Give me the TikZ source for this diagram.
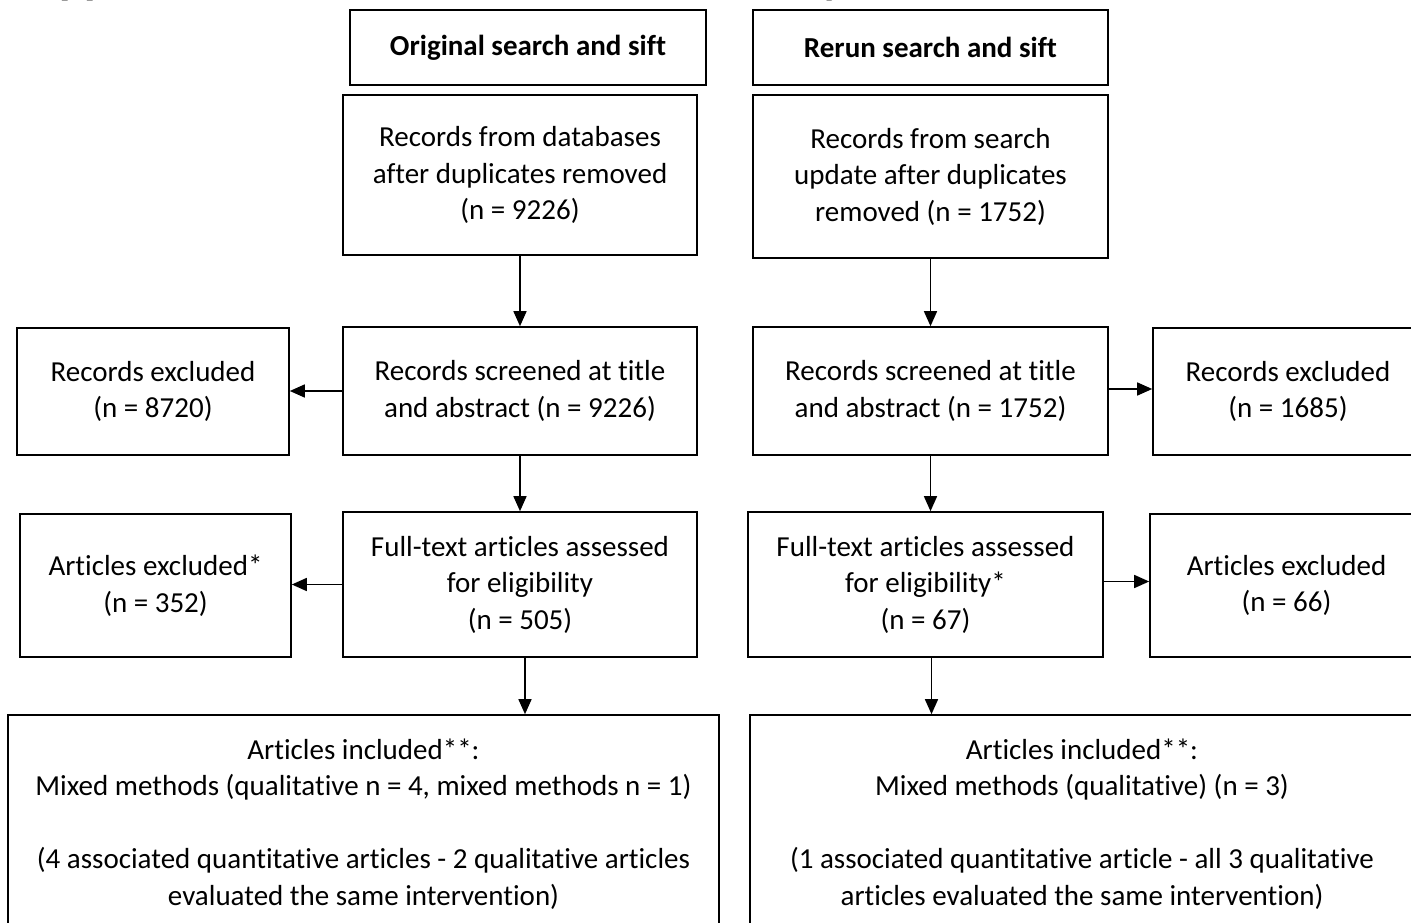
\documentclass[tikz,border=0pt]{standalone}
\usepackage{fontspec}
\setmainfont{Carlito}[Ligatures=NoCommon]
\usetikzlibrary{arrows.meta}
\begin{document}
\begin{tikzpicture}[x=1pt,y=-1pt,
  box/.style={draw=black, line width=1.6pt, inner sep=0pt, align=center,
    font=\fontsize{29}{36.5}\selectfont},
  head/.style={box, font=\bfseries\fontsize{29}{36.5}\selectfont},
  flow/.style={draw=black, line width=1.5pt, -{Triangle[length=15pt,width=13pt]}},
  title/.style={anchor=base west, inner sep=0pt, font=\bfseries\fontsize{47}{56}\selectfont}]
\useasboundingbox (0,0) rectangle (1411,923);
\clip (0,0) rectangle (1411,923);

% heading line, mostly above the top edge
\node[title] (titleA) at (31,-6) {Appendix};
\node[title] (titleB) at (332,-6) {,};
\node[title] (titleC) at (822,-6) {y};

% column headings
\node[head, minimum width=356pt, minimum height=75pt] (orig) at (528,47.5) {Original search and sift};
\node[head, minimum width=355pt, minimum height=75pt] (rerun) at (930.5,47.5) {Rerun search and sift};

% identification
\node[box, minimum width=354pt, minimum height=160pt] (rec1) at (520,175)
  {Records from databases\\after duplicates removed\\(n = 9226)};
\node[box, minimum width=355pt, minimum height=163pt] (rec2) at (930.5,176.5)
  {Records from search\\update after duplicates\\removed (n = 1752)};

% screening
\node[box, minimum width=354pt, minimum height=128pt] (scr1) at (520,391)
  {Records screened at title\\and abstract (n = 9226)};
\node[box, minimum width=272pt, minimum height=127pt] (exc1) at (153,391.5)
  {Records excluded\\(n = 8720)};
\node[box, minimum width=355pt, minimum height=128pt] (scr2) at (930.5,391)
  {Records screened at title\\and abstract (n = 1752)};
\node[box, minimum width=270pt, minimum height=127pt] (exc2) at (1288,391.5)
  {Records excluded\\(n = 1685)};

% eligibility
\node[box, minimum width=354pt, minimum height=145pt] (ft1) at (520,584.5)
  {Full-text articles assessed\\for eligibility\\(n = 505)};
\node[box, minimum width=271pt, minimum height=143pt] (aex1) at (155.5,585.5)
  {Articles excluded*\\(n = 352)};
\node[box, minimum width=355pt, minimum height=145pt] (ft2) at (925.5,584.5)
  {Full-text articles assessed\\for eligibility*\\(n = 67)};
\node[box, minimum width=273pt, minimum height=143pt] (aex2) at (1286.5,585.5)
  {Articles excluded\\(n = 66)};

% included
\node[box, minimum width=711pt, minimum height=218pt] (inc1) at (363.5,824)
  {Articles included**:\\Mixed methods (qualitative n = 4, mixed methods n = 1)\\[36.5pt]
   (4 associated quantitative articles - 2 qualitative articles\\evaluated the same intervention)};
\node[box, minimum width=664pt, minimum height=218pt] (inc2) at (1082,824)
  {Articles included**:\\Mixed methods (qualitative) (n = 3)\\[36.5pt]
   (1 associated quantitative article - all 3 qualitative\\articles evaluated the same intervention)};

% connectors
\draw[flow] (rec1.south) -- (scr1.north);
\draw[flow] (rec2.south) -- (scr2.north);
\draw[flow] (scr1.west) -- (exc1.east |- scr1.west);
\draw[flow] ([yshift=2pt]scr2.east) -- ([yshift=2pt]exc2.west |- scr2.east);
\draw[flow] (scr1.south) -- (ft1.north);
\draw[flow] (scr2.south) -- (scr2.south |- ft2.north);
\draw[flow] (ft1.west) -- (aex1.east |- ft1.west);
\draw[flow] ([yshift=3pt]ft2.east) -- ([yshift=3pt]aex2.west |- ft2.east);
\draw[flow] ([xshift=5pt]ft1.south) -- ([xshift=5pt]ft1.south |- inc1.north);
\draw[flow] ([xshift=6pt]ft2.south) -- ([xshift=6pt]ft2.south |- inc2.north);
\end{tikzpicture}
\end{document}
